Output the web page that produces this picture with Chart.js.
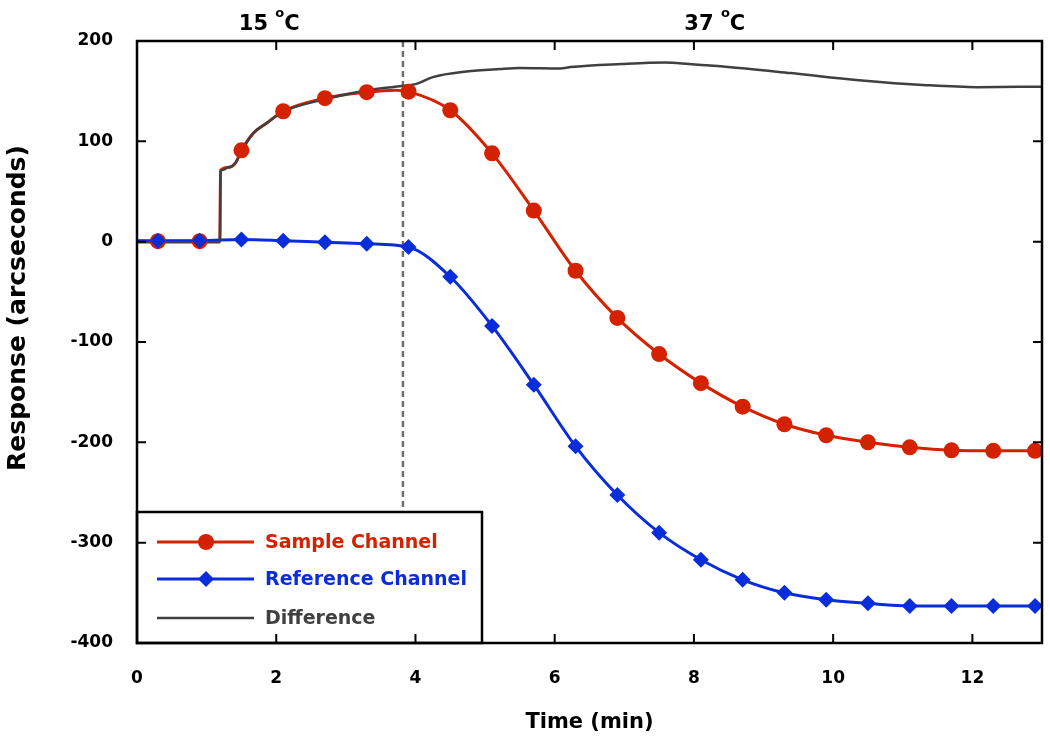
<!DOCTYPE html>
<html><head><meta charset="utf-8">
<script src="https://cdn.jsdelivr.net/npm/chart.js@4.4.1/dist/chart.umd.min.js"></script>
<style>html,body{margin:0;padding:0;background:#fff}canvas{display:block}</style>
</head><body>
<canvas id="c" width="1050" height="741"></canvas>
<script>
// ---- data ----
const timeMarks = [0.3,0.9,1.5,2.1,2.7,3.3,3.9,4.5,5.1,5.7,6.3,6.9,7.5,8.1,8.7,9.3,9.9,10.5,11.1,11.7,12.3,12.9];
const sampleMarks = [0.5,0.5,91,130,143,149,149.5,131,88,31,-29,-76,-112,-141,-164.5,-182,-193,-200,-205,-208,-208.5,-208.5];
const referenceMarks = [1,1,2.2,1,-0.6,-2,-5.4,-35,-84,-142.5,-204,-252.5,-290,-317,-337,-350,-357,-360.5,-363,-363,-363,-363];

const sampleLineTime = [0,0.3,0.9,1.19,1.2,1.3,1.36,1.42,1.5,1.67,1.86,2.1,2.7,3.3,3.7,3.9,4.5,5.1,5.7,6.3,6.9,7.5,8.1,8.7,9.3,9.9,10.5,11.1,11.7,12.3,12.9,13];
const sampleLineValues = [0.5,0.5,0.5,0.5,71,74,75,79,91,108,118,130,143,149,151,149.5,131,88,31,-29,-76,-112,-141,-164.5,-182,-193,-200,-205,-208,-208.5,-208.5,-208.5];

const referenceLineTime = [0,0.3,0.9,1.5,2.1,2.7,3.3,3.9,4.5,5.1,5.7,6.3,6.9,7.5,8.1,8.7,9.3,9.9,10.5,11.1,11.7,12.3,12.9,13];
const referenceLineValues = [1,1,1,2.2,1,-0.6,-2,-5.4,-35,-84,-142.5,-204,-252.5,-290,-317,-337,-350,-357,-360.5,-363,-363,-363,-363,-363];

const differenceTime = [0,1.19,1.2,1.25,1.3,1.36,1.42,1.5,1.67,1.86,2.1,2.7,3.3,3.77,4.0,4.25,4.73,5.21,5.5,6.08,6.23,6.96,7.59,7.93,8.42,9.39,10.37,11.34,12.07,13];
const differenceValues = [-0.5,-0.5,70,72,74,75,79,90,108,118,129.5,142,151,155,157,164,169.5,172,173,172.5,174,177,178.5,177,174.5,168,161,156,154,154.5];

const xTickLabels = [0,2,4,6,8,10,12];
const yTickLabels = [-400,-300,-200,-100,0,100,200];
const temperatureShift = 3.82;               // dashed line, min
const temperatureLabels = [{at:1.9, text:'15', unit:'C'}, {at:8.3, text:'37', unit:'C'}];
const seriesNames = ['Sample Channel','Reference Channel','Difference'];
const yTitle = 'Response (arcseconds)';

const RED = '#d42200', BLUE = '#0a2ddc', GRAY = '#404040';
const FONT = "'DejaVu Sans'";

const pts = (xs, ys) => xs.map((v,i)=>({x:v, y:ys[i]}));

function drawMarker(ctx, kind, x, y, color) {
  ctx.fillStyle = color;
  ctx.beginPath();
  if (kind === 'circle') { ctx.arc(x, y, 8, 0, Math.PI*2); }
  else { ctx.moveTo(x, y-8); ctx.lineTo(x+8, y); ctx.lineTo(x, y+8); ctx.lineTo(x-8, y); ctx.closePath(); }
  ctx.fill();
}

const framePlugin = {
  id: 'frame',
  beforeDatasetsDraw(chart) {
    const {ctx, chartArea: a, scales: {x}} = chart;
    const px = x.getPixelForValue(temperatureShift);
    ctx.save();
    ctx.strokeStyle = '#6e6e6e'; ctx.lineWidth = 2.5; ctx.setLineDash([6,4]);
    ctx.beginPath(); ctx.moveTo(px, a.top); ctx.lineTo(px, a.bottom); ctx.stroke();
    ctx.restore();
  },
  afterDraw(chart) {
    const {ctx, chartArea: a, scales: {x, y}} = chart;
    ctx.save();
    // legend box
    const lw = 345, lh = 131;
    ctx.fillStyle = '#fff';
    ctx.fillRect(a.left, a.bottom - lh, lw, lh);
    ctx.strokeStyle = '#000'; ctx.lineWidth = 2.5;
    ctx.strokeRect(a.left, a.bottom - lh, lw, lh);
    const rows = [a.bottom - 101, a.bottom - 64, a.bottom - 25];
    const cols = [RED, BLUE, GRAY];
    const kinds = ['circle','diamond',null];
    rows.forEach((ry, i) => {
      ctx.strokeStyle = cols[i]; ctx.lineWidth = i === 2 ? 2.5 : 3;
      ctx.beginPath(); ctx.moveTo(a.left + 20, ry); ctx.lineTo(a.left + 117, ry); ctx.stroke();
      if (kinds[i]) drawMarker(ctx, kinds[i], a.left + 69, ry, cols[i]);
      ctx.fillStyle = cols[i];
      ctx.font = 'bold 19px ' + FONT;
      ctx.textBaseline = 'middle'; ctx.textAlign = 'left';
      ctx.fillText(seriesNames[i], a.left + 128, ry + 1);
    });
    // frame
    ctx.strokeStyle = '#000'; ctx.lineWidth = 2.5;
    ctx.strokeRect(a.left, a.top, a.right - a.left, a.bottom - a.top);
    // inward ticks
    ctx.lineWidth = 2;
    const tl = 9;
    xTickLabels.forEach(v => {
      const px = x.getPixelForValue(v);
      if (px <= a.left + 1 || px >= a.right - 1) return;
      ctx.beginPath();
      ctx.moveTo(px, a.bottom); ctx.lineTo(px, a.bottom - tl);
      ctx.moveTo(px, a.top); ctx.lineTo(px, a.top + tl);
      ctx.stroke();
    });
    yTickLabels.forEach(v => {
      const py = y.getPixelForValue(v);
      if (py <= a.top + 1 || py >= a.bottom - 1) return;
      ctx.beginPath();
      ctx.moveTo(a.left, py); ctx.lineTo(a.left + tl, py);
      ctx.moveTo(a.right, py); ctx.lineTo(a.right - tl, py);
      ctx.stroke();
    });
    // temperature labels
    ctx.fillStyle = '#000'; ctx.textBaseline = 'alphabetic'; ctx.textAlign = 'left';
    temperatureLabels.forEach(l => {
      const big = 'bold 21px ' + FONT, small = 'bold 13px ' + FONT;
      ctx.font = big; const w1 = ctx.measureText(l.text + ' ').width; const w3 = ctx.measureText(l.unit).width;
      ctx.font = small; const w2 = ctx.measureText('o').width;
      let sx = x.getPixelForValue(l.at) - (w1 + w2 + w3) / 2;
      ctx.font = big; ctx.fillText(l.text + ' ', sx, 30);
      ctx.font = small; ctx.fillText('o', sx + w1, 17);
      ctx.font = big; ctx.fillText(l.unit, sx + w1 + w2, 30);
    });
    // y axis title
    ctx.translate(18, 308);
    ctx.rotate(-Math.PI / 2);
    ctx.font = 'bold 25px ' + FONT;
    ctx.textAlign = 'center'; ctx.textBaseline = 'middle';
    ctx.fillText(yTitle, 0, 0);
    ctx.restore();
  }
};

new Chart(document.getElementById('c'), {
  type: 'line',
  data: {
    datasets: [
      {label: seriesNames[1] + ' markers', data: pts(timeMarks, referenceMarks), showLine: false,
       pointStyle: 'rectRot', pointRadius: 8, pointBackgroundColor: BLUE, pointBorderWidth: 0, order: 0},
      {label: seriesNames[0] + ' markers', data: pts(timeMarks, sampleMarks), showLine: false,
       pointStyle: 'circle', pointRadius: 8, pointBackgroundColor: RED, pointBorderWidth: 0, order: 1},
      {label: seriesNames[2], data: pts(differenceTime, differenceValues), borderColor: GRAY, borderWidth: 2.5,
       pointRadius: 0, cubicInterpolationMode: 'monotone', order: 2},
      {label: seriesNames[1], data: pts(referenceLineTime, referenceLineValues), borderColor: BLUE, borderWidth: 3,
       pointRadius: 0, cubicInterpolationMode: 'monotone', order: 3},
      {label: seriesNames[0], data: pts(sampleLineTime, sampleLineValues), borderColor: RED, borderWidth: 3,
       pointRadius: 0, cubicInterpolationMode: 'monotone', order: 4}
    ]
  },
  options: {
    responsive: false, animation: false, devicePixelRatio: 1,
    layout: {padding: {top: 41, right: 7, left: 0, bottom: 0}},
    plugins: {legend: {display: false}, tooltip: {enabled: false}},
    scales: {
      x: {type: 'linear', min: 0, max: 13,
          afterBuildTicks: s => { s.ticks = xTickLabels.map(v => ({value: v})); },
          afterFit: s => { s.height = 98; },
          grid: {display: false, drawTicks: false}, border: {display: false},
          ticks: {color: '#000', padding: 25, maxRotation: 0, autoSkip: false,
                  font: {family: FONT, size: 17, weight: 'bold'}, callback: v => String(v)},
          title: {display: true, text: 'Time (min)', color: '#000',
                  font: {family: FONT, size: 21, weight: 'bold'}, padding: {top: 0, bottom: 6}}},
      y: {type: 'linear', min: -400, max: 200,
          afterBuildTicks: s => { s.ticks = yTickLabels.map(v => ({value: v})); },
          afterFit: s => { s.width = 137; },
          grid: {display: false, drawTicks: false}, border: {display: false},
          ticks: {color: '#000', padding: 24, autoSkip: false,
                  font: {family: FONT, size: 17, weight: 'bold'}, callback: v => String(v)},
          title: {display: false}}
    }
  },
  plugins: [framePlugin]
});
</script>
</body></html>
